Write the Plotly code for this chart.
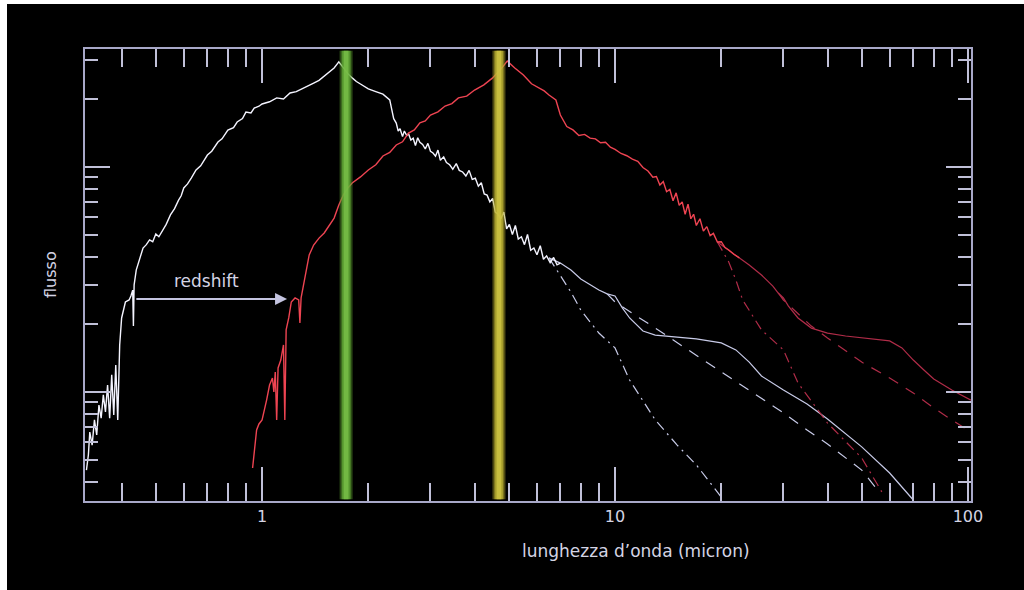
import numpy as np
import plotly.graph_objects as go

# ---------------- data (wavelength in micron, flux as log10 of arbitrary units) ----------------
white_wl = [0.318, 0.322, 0.325, 0.33, 0.335, 0.34, 0.345, 0.35, 0.355, 0.36, 0.365, 0.37, 0.375,
            0.38, 0.385, 0.39, 0.395, 0.40, 0.41, 0.42, 0.425, 0.43, 0.432, 0.434, 0.44, 0.45, 0.46,
            0.47, 0.48, 0.49, 0.50, 0.51, 0.52, 0.535, 0.55, 0.565, 0.58, 0.59, 0.60, 0.615, 0.63,
            0.65, 0.67, 0.70, 0.72, 0.75, 0.77, 0.80, 0.83, 0.85, 0.88, 0.90, 0.93, 0.95, 0.98, 1.0,
            1.05, 1.1, 1.15, 1.2, 1.25, 1.3, 1.35, 1.4, 1.45, 1.5, 1.55, 1.6, 1.65, 1.7, 1.75, 1.8,
            1.85, 1.9, 2.0, 2.1, 2.2, 2.3, 2.32, 2.36, 2.40, 2.43, 2.46, 2.50, 2.53, 2.57, 2.60,
            2.64, 2.68, 2.72, 2.76, 2.80, 2.85, 2.90, 2.95, 3.00, 3.05, 3.10, 3.15, 3.20, 3.27, 3.33,
            3.40, 3.47, 3.55, 3.62, 3.70, 3.78, 3.86, 3.94, 4.02, 4.10, 4.18, 4.26, 4.34, 4.42, 4.50,
            4.58, 4.66, 4.75, 4.84, 4.93, 5.02, 5.12, 5.22, 5.32, 5.43, 5.54, 5.65, 5.77, 5.89, 6.01,
            6.14, 6.27, 6.40, 6.55, 6.70, 6.85, 7.00]
white_flux = [-0.347, -0.280, -0.178, -0.236, -0.124, -0.191, -0.058, -0.116, -0.013, -0.089, 0.031,
              -0.116, 0.076, -0.102, 0.120, -0.124, 0.209, 0.329, 0.400, 0.409, 0.427, 0.453, 0.293,
              0.476, 0.542, 0.596, 0.640, 0.655, 0.676, 0.668, 0.702, 0.690, 0.711, 0.745, 0.787,
              0.815, 0.853, 0.872, 0.907, 0.925, 0.951, 0.987, 1.005, 1.053, 1.070, 1.111, 1.125,
              1.164, 1.175, 1.200, 1.215, 1.244, 1.240, 1.262, 1.270, 1.280, 1.290, 1.307, 1.302,
              1.329, 1.335, 1.347, 1.360, 1.373, 1.385, 1.404, 1.420, 1.440, 1.467, 1.440, 1.415,
              1.396, 1.380, 1.369, 1.347, 1.335, 1.324, 1.298, 1.270, 1.215, 1.195, 1.160, 1.170,
              1.135, 1.160, 1.140, 1.148, 1.120, 1.128, 1.095, 1.130, 1.110, 1.100, 1.080, 1.105,
              1.070, 1.062, 1.048, 1.075, 1.030, 1.045, 1.020, 1.010, 0.990, 1.015, 0.985, 0.978,
              0.960, 0.985, 0.945, 0.950, 0.915, 0.930, 0.880, 0.875, 0.845, 0.860, 0.800, 0.790,
              0.770, 0.800, 0.725, 0.745, 0.700, 0.740, 0.680, 0.690, 0.655, 0.700, 0.630, 0.640,
              0.610, 0.650, 0.590, 0.605, 0.575, 0.598, 0.565, 0.573]

white_solid_wl = [6.5, 7.0, 7.5, 8.0, 9.0, 9.5, 10, 10.5, 11, 12, 13, 15, 17, 20, 22, 24, 26, 30, 35,
                  40, 50, 60, 70]
white_solid_flux = [0.596, 0.573, 0.542, 0.502, 0.453, 0.436, 0.427, 0.373, 0.329, 0.271, 0.253,
                    0.244, 0.236, 0.218, 0.187, 0.133, 0.071, 0.009, -0.053, -0.120, -0.244, -0.360,
                    -0.480]
white_dash_wl = [9.5, 10, 13, 17, 20, 26, 30, 35, 40, 50, 56]
white_dash_flux = [0.436, 0.400, 0.284, 0.164, 0.089, -0.027, -0.093, -0.169, -0.231, -0.347, -0.444]
white_dot_wl = [6.5, 7.0, 7.5, 8, 9, 10, 11, 13, 15, 17, 20]
white_dot_flux = [0.596, 0.520, 0.444, 0.364, 0.262, 0.196, 0.053, -0.124, -0.236, -0.324, -0.467]

red_wl = [0.94, 0.95, 0.965, 0.98, 1.0, 1.03, 1.05, 1.07, 1.08, 1.09, 1.10, 1.11, 1.13, 1.15, 1.16,
          1.17, 1.19, 1.21, 1.24, 1.27, 1.28, 1.29, 1.32, 1.36, 1.40, 1.45, 1.50, 1.55, 1.60, 1.65,
          1.70, 1.75, 1.80, 1.90, 2.0, 2.1, 2.2, 2.3, 2.4, 2.5, 2.6, 2.7, 2.8, 2.9, 3.0, 3.15, 3.3,
          3.45, 3.6, 3.8, 4.0, 4.25, 4.5, 4.8, 4.95, 5.2, 5.5, 5.8, 6.0, 6.3, 6.5, 6.8,
          7.0, 7.3, 7.6, 7.9, 8.2, 8.5, 8.8, 9.1, 9.4, 9.7, 10.0, 10.4, 10.8, 11.2, 11.6, 12.0, 12.4,
          12.8, 13.1, 13.4, 13.7, 14.0, 14.3, 14.6, 14.9, 15.2, 15.5, 15.8, 16.1, 16.4, 16.7, 17.0,
          17.4, 17.8, 18.2, 18.6, 19.0, 19.5, 20.0, 20.5, 21.0, 21.7, 22.5]
red_flux = [-0.338, -0.258, -0.169, -0.142, -0.124, -0.036, 0.031, 0.062, 0.000, 0.089, -0.124,
            0.107, 0.142, 0.209, -0.124, 0.276, 0.329, 0.400, 0.418, 0.409, 0.307, 0.418, 0.498,
            0.609, 0.653, 0.684, 0.707, 0.742, 0.773, 0.831, 0.876, 0.907, 0.929, 0.956, 0.987,
            1.010, 1.049, 1.065, 1.098, 1.112, 1.151, 1.165, 1.196, 1.205, 1.231, 1.245, 1.271,
            1.282, 1.307, 1.315, 1.342, 1.365, 1.396, 1.444, 1.471, 1.440, 1.409, 1.370, 1.356,
            1.338, 1.320, 1.298,
            1.231, 1.180, 1.165, 1.140, 1.145, 1.128, 1.125, 1.108, 1.110, 1.088, 1.078, 1.060,
            1.050, 1.035, 1.025, 0.998, 0.982, 0.955, 0.958, 0.920, 0.935, 0.890, 0.900, 0.850,
            0.885, 0.830, 0.845, 0.790, 0.835, 0.770, 0.790, 0.740, 0.770, 0.715, 0.735, 0.695,
            0.705, 0.667, 0.668, 0.642, 0.631, 0.612, 0.596]

red_solid_wl = [19.5, 21, 22.5, 24, 26, 28, 29, 30, 31, 33, 36, 40, 45, 50, 60, 65, 70, 75, 80, 90, 102]
red_solid_flux = [0.667, 0.631, 0.596, 0.564, 0.520, 0.471, 0.440, 0.418, 0.382, 0.329, 0.284, 0.262,
                  0.249, 0.240, 0.227, 0.196, 0.142, 0.098, 0.058, 0.009, -0.036]
red_dash_wl = [29, 30, 36, 40, 50, 60, 70, 80, 90, 102]
red_dash_flux = [0.440, 0.409, 0.293, 0.240, 0.133, 0.062, -0.004, -0.071, -0.124, -0.178]
red_dot_wl = [19.5, 21, 22, 23, 26, 30, 33, 40, 50, 57]
red_dot_flux = [0.667, 0.578, 0.498, 0.409, 0.276, 0.187, 0.040, -0.138, -0.293, -0.444]

band_centers = [1.73, 4.69]

x_major = [1, 10, 100]
x_minor = [0.4, 0.5, 0.6, 0.7, 0.8, 0.9, 2, 3, 4, 5, 6, 7, 8, 9, 20, 30, 40, 50, 60, 70, 80, 90]
y_major_mult = [1, 10]
y_minor_mult = [0.4, 0.5, 0.6, 0.7, 0.8, 0.9, 2, 3, 4, 5, 6, 7, 8, 9, 20, 30]

# ---------------- figure ----------------
FONT = "DejaVu Sans"
AXC = "#a8a8c8"
TXT = "#d4d4e4"
W, H = 1024, 590
fig = go.Figure()


def add(x, y, color, width, dash="solid"):
    fig.add_trace(go.Scatter(x=x, y=y, mode="lines", line=dict(color=color, width=width, dash=dash),
                             hoverinfo="skip", showlegend=False))


WHITE_T = "#c8cbe8"
RED_T = "#b02c48"
add(white_solid_wl, white_solid_flux, WHITE_T, 1.2)
add(white_dash_wl, white_dash_flux, WHITE_T, 1.2, "11px,9px")
add(white_dot_wl, white_dot_flux, WHITE_T, 1.2, "10px,5px,2px,5px")
add(red_solid_wl, red_solid_flux, RED_T, 1.2)
add(red_dash_wl, red_dash_flux, RED_T, 1.2, "11px,9px")
add(red_dot_wl, red_dot_flux, RED_T, 1.2, "10px,5px,2px,5px")
add(white_wl, white_flux, "#f4f4ff", 1.4)
add(red_wl, red_flux, "#ee4452", 1.4)

shapes = []
band_layers = [
    [(1.0433, "rgba(90,160,45,0.45)"), (1.030, "rgba(100,175,55,0.75)"), (1.016, "rgba(120,190,70,0.85)")],
    [(1.0433, "rgba(175,165,40,0.45)"), (1.030, "rgba(190,180,50,0.78)"), (1.016, "rgba(205,195,65,0.88)")],
]
for c, layers in zip(band_centers, band_layers):
    for f, col in layers:
        shapes.append(dict(type="rect", xref="x", yref="paper", x0=c / f, x1=c * f, y0=0.004, y1=0.996,
                           fillcolor=col, line=dict(width=0), layer="above"))

# white frame at the left and top edges of the picture
shapes.append(dict(type="rect", xref="paper", yref="paper", x0=-0.2, x1=(7 - 85) / 886, y0=-0.3, y1=1.2,
                   fillcolor="white", line=dict(width=0), layer="below"))
shapes.append(dict(type="rect", xref="paper", yref="paper", x0=-0.2, x1=1.2, y0=(501 - 4) / 452, y1=1.2,
                   fillcolor="white", line=dict(width=0), layer="below"))

annotations = [
    dict(x=np.log10(1.177), y=0.413, ax=np.log10(0.436), ay=0.413, xref="x", yref="y", axref="x", ayref="y",
         showarrow=True, arrowhead=2, arrowsize=1.2, arrowwidth=2, arrowcolor="#c4c4e0", text=""),
    dict(x=np.log10(0.698), y=0.493, xref="x", yref="y", text="redshift", showarrow=False,
         xanchor="center", yanchor="middle", font=dict(family=FONT, size=17, color=TXT)),
    dict(x=(636 - 85) / 886, y=(501 - 551) / 452, xref="paper", yref="paper", xanchor="center",
         yanchor="middle", text="lunghezza d’onda (micron)", showarrow=False,
         font=dict(family=FONT, size=17, color=TXT)),
    dict(x=(50 - 85) / 886, y=(501 - 275) / 452, xref="paper", yref="paper", text="flusso", textangle=-90,
         xanchor="center", yanchor="middle", showarrow=False, font=dict(family=FONT, size=16, color=TXT)),
]

fig.update_layout(
    width=W, height=H, margin=dict(l=85, r=W - 971, t=49, b=H - 501),
    paper_bgcolor="black", plot_bgcolor="black",
    shapes=shapes, annotations=annotations,
    font=dict(family=FONT, color=TXT),
)
fig.update_xaxes(type="log", range=[np.log10(0.315), np.log10(102)], showgrid=False, zeroline=False,
                 showline=True, linecolor=AXC, linewidth=2, mirror="ticks",
                 ticks="inside", ticklen=34, tickwidth=1.5, tickcolor="#c0c0d8",
                 tickmode="array", tickvals=x_major, ticktext=[str(v) for v in x_major],
                 tickfont=dict(family=FONT, size=16, color=TXT),
                 minor=dict(tickmode="array", tickvals=x_minor, ticks="inside", ticklen=18,
                            tickwidth=1.5, tickcolor="#c0c0d8", showgrid=False))
fig.update_yaxes(range=[(392 - 501) / 225, (392 - 49) / 225], showgrid=False, zeroline=False,
                 showline=True, linecolor=AXC, linewidth=2, mirror="ticks",
                 ticks="inside", ticklen=25, tickwidth=1.5, tickcolor="#c0c0d8",
                 tickmode="array", tickvals=list(np.log10(y_major_mult)), showticklabels=False,
                 minor=dict(tickmode="array", tickvals=list(np.log10(y_minor_mult)), ticks="inside",
                            ticklen=13, tickwidth=1.5, tickcolor="#c0c0d8", showgrid=False))

fig.write_html("out.html")
